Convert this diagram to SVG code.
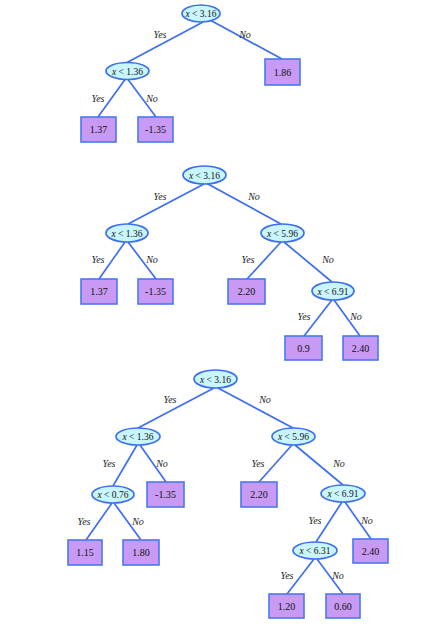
<svg xmlns="http://www.w3.org/2000/svg" width="436" height="631" viewBox="0 0 436 631">
<style>
.e{fill:#c9f5fd;stroke:#3d6ff0;stroke-width:1.7}
.b{fill:#c89af3;stroke:#4a78ec;stroke-width:1.6}
.c line{stroke:#3d6ff0;stroke-width:1.7}
text{font-family:"Liberation Serif","Times New Roman",serif;font-size:10px;fill:#111;text-anchor:middle}
.t{font-size:9.5px}
.l{font-style:italic;font-size:10px;fill:#222}
.i{font-style:italic}
</style>
<rect width="436" height="631" fill="#fff"/>
<g class="c" id="connectors">
<line x1="203" y1="22" x2="127" y2="62.5"/>
<line x1="210" y1="20" x2="282" y2="59"/>
<line x1="125" y1="79.5" x2="98" y2="117"/>
<line x1="128" y1="79.5" x2="156" y2="117"/>
<line x1="204" y1="184" x2="128" y2="224"/>
<line x1="207" y1="183.5" x2="281" y2="224"/>
<line x1="125" y1="242" x2="99" y2="279"/>
<line x1="128" y1="242" x2="156" y2="279"/>
<line x1="281" y1="242" x2="247" y2="279"/>
<line x1="284" y1="242" x2="332" y2="282"/>
<line x1="332" y1="300" x2="304" y2="336"/>
<line x1="334" y1="300" x2="360" y2="336"/>
<line x1="214" y1="388" x2="138" y2="428"/>
<line x1="218" y1="388" x2="293" y2="428"/>
<line x1="137" y1="445" x2="113" y2="486"/>
<line x1="140" y1="445" x2="166" y2="482"/>
<line x1="292" y1="445" x2="259" y2="482"/>
<line x1="295" y1="445" x2="343" y2="485"/>
<line x1="112" y1="503" x2="86" y2="540"/>
<line x1="114" y1="503" x2="141" y2="540"/>
<line x1="342" y1="502" x2="316" y2="542"/>
<line x1="345" y1="502" x2="371" y2="539"/>
<line x1="314" y1="559" x2="287" y2="594"/>
<line x1="317" y1="559" x2="343" y2="594"/>
</g>
<g id="edge-labels">
<text class="l" x="160" y="38">Yes</text>
<text class="l" x="245" y="38">No</text>
<text class="l" x="98" y="102">Yes</text>
<text class="l" x="152" y="102">No</text>
<text class="l" x="160" y="200">Yes</text>
<text class="l" x="254" y="200">No</text>
<text class="l" x="98" y="263">Yes</text>
<text class="l" x="152" y="263">No</text>
<text class="l" x="248" y="263">Yes</text>
<text class="l" x="328" y="263">No</text>
<text class="l" x="304" y="320">Yes</text>
<text class="l" x="356" y="320">No</text>
<text class="l" x="170" y="403">Yes</text>
<text class="l" x="265" y="403">No</text>
<text class="l" x="109" y="467">Yes</text>
<text class="l" x="162" y="467">No</text>
<text class="l" x="258" y="467">Yes</text>
<text class="l" x="339" y="467">No</text>
<text class="l" x="84" y="525">Yes</text>
<text class="l" x="138" y="525">No</text>
<text class="l" x="315" y="524">Yes</text>
<text class="l" x="367" y="524">No</text>
<text class="l" x="287" y="579">Yes</text>
<text class="l" x="338" y="579">No</text>
</g>
<g id="t1-root"><ellipse class="e" cx="201" cy="13.5" rx="19" ry="8.5"/><text class="t" x="201" y="17"><tspan class="i">x</tspan> &lt; 3.16</text></g>
<g id="t1-a"><ellipse class="e" cx="127.5" cy="71" rx="21.5" ry="8.5"/><text class="t" x="127.5" y="74.5"><tspan class="i">x</tspan> &lt; 1.36</text></g>
<g id="t1-l186"><rect class="b" x="265" y="59" width="35" height="26"/><text x="282.5" y="75.5">1.86</text></g>
<g id="t1-l137"><rect class="b" x="81" y="117" width="35" height="25"/><text x="98.5" y="133">1.37</text></g>
<g id="t1-l135"><rect class="b" x="138" y="117" width="35" height="25"/><text x="155.5" y="133">-1.35</text></g>

<g id="t2-root"><ellipse class="e" cx="204.5" cy="175" rx="21.5" ry="9"/><text class="t" x="204.5" y="178.5"><tspan class="i">x</tspan> &lt; 3.16</text></g>
<g id="t2-a"><ellipse class="e" cx="127" cy="233" rx="21" ry="9"/><text class="t" x="127" y="236.5"><tspan class="i">x</tspan> &lt; 1.36</text></g>
<g id="t2-b"><ellipse class="e" cx="282.5" cy="233" rx="21.5" ry="9"/><text class="t" x="282.5" y="236.5"><tspan class="i">x</tspan> &lt; 5.96</text></g>
<g id="t2-l137"><rect class="b" x="81" y="279" width="36" height="25"/><text x="99" y="295">1.37</text></g>
<g id="t2-l135"><rect class="b" x="138" y="279" width="35" height="25"/><text x="155.5" y="295">-1.35</text></g>
<g id="t2-l220"><rect class="b" x="228" y="279" width="37" height="25"/><text x="246.5" y="295">2.20</text></g>
<g id="t2-c"><ellipse class="e" cx="333" cy="291" rx="21" ry="9"/><text class="t" x="333" y="294.5"><tspan class="i">x</tspan> &lt; 6.91</text></g>
<g id="t2-l09"><rect class="b" x="285" y="336" width="37" height="24"/><text x="303.5" y="351.5">0.9</text></g>
<g id="t2-l240"><rect class="b" x="343" y="336" width="35" height="24"/><text x="360.5" y="351.5">2.40</text></g>

<g id="t3-root"><ellipse class="e" cx="215.5" cy="379" rx="21.5" ry="9"/><text class="t" x="215.5" y="382.5"><tspan class="i">x</tspan> &lt; 3.16</text></g>
<g id="t3-a"><ellipse class="e" cx="138" cy="436.5" rx="22" ry="8.5"/><text class="t" x="138" y="440"><tspan class="i">x</tspan> &lt; 1.36</text></g>
<g id="t3-b"><ellipse class="e" cx="293.5" cy="436.5" rx="21.5" ry="8.5"/><text class="t" x="293.5" y="440"><tspan class="i">x</tspan> &lt; 5.96</text></g>
<g id="t3-d"><ellipse class="e" cx="113" cy="494.5" rx="21" ry="8.5"/><text class="t" x="113" y="498"><tspan class="i">x</tspan> &lt; 0.76</text></g>
<g id="t3-l135"><rect class="b" x="147" y="482" width="37" height="25"/><text x="165.5" y="498">-1.35</text></g>
<g id="t3-l220"><rect class="b" x="241" y="482" width="36" height="25"/><text x="259" y="498">2.20</text></g>
<g id="t3-c"><ellipse class="e" cx="343" cy="493.5" rx="22" ry="8.5"/><text class="t" x="343" y="497"><tspan class="i">x</tspan> &lt; 6.91</text></g>
<g id="t3-l115"><rect class="b" x="68" y="540" width="34" height="25"/><text x="85" y="556">1.15</text></g>
<g id="t3-l180"><rect class="b" x="123" y="540" width="36" height="25"/><text x="141" y="556">1.80</text></g>
<g id="t3-e"><ellipse class="e" cx="315" cy="550.5" rx="22" ry="8.5"/><text class="t" x="315" y="554"><tspan class="i">x</tspan> &lt; 6.31</text></g>
<g id="t3-l240"><rect class="b" x="353" y="539" width="35" height="24"/><text x="370.5" y="554.5">2.40</text></g>
<g id="t3-l120"><rect class="b" x="269" y="594" width="35" height="24"/><text x="286.5" y="609.5">1.20</text></g>
<g id="t3-l060"><rect class="b" x="326" y="594" width="34" height="24"/><text x="343" y="609.5">0.60</text></g>
</svg>
